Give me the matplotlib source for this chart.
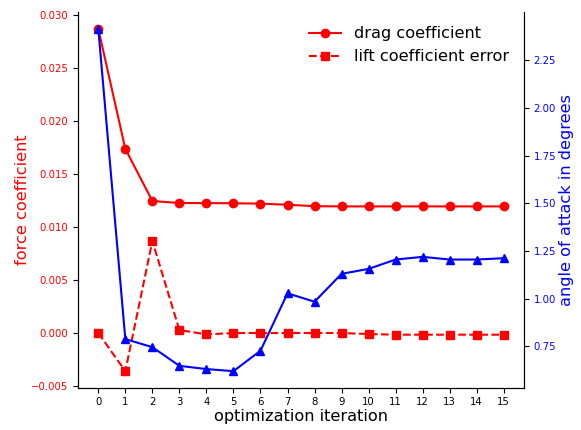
import matplotlib.pyplot as plt
import numpy as np

# данные
iterations = np.arange(16)
drag_coef = [0.02869, 0.01736, 0.01245, 0.01226, 0.01225, 0.01224, 0.01220, 0.01210,
             0.01196, 0.01194, 0.01194, 0.01194, 0.01194, 0.01194, 0.01194, 0.01194]
lift_err = [0.0000, -0.0036, 0.00868, 0.00028, -0.00013, 0.0000, 0.0000, 0.0000,
            0.0000, 0.0000, -0.0001, -0.00016, -0.00016, -0.00016, -0.00016, -0.00016]
angle_deg = [2.414, 0.788, 0.746, 0.648, 0.631, 0.620, 0.727, 1.028,
             0.984, 1.130, 1.156, 1.205, 1.219, 1.205, 1.205, 1.212]

fig = plt.figure(figsize=(5.81, 4.30), dpi=100)
ax = fig.add_axes([0.1343, 0.097, 0.7676, 0.8758])

ax.plot(iterations, drag_coef, 'r-o', lw=1.5, ms=6, label='drag coefficient')
ax.plot(iterations, lift_err, 'r--s', lw=1.5, ms=6, label='lift coefficient error')
ax.set_xlabel('optimization iteration', fontsize=11.6, labelpad=2)
ax.set_ylabel('force coefficient', color='red', fontsize=11.6, labelpad=1)
ax.set_xticks(iterations)
ax.tick_params(axis='x', labelsize=7.3, pad=2.5)
ax.tick_params(axis='y', labelsize=7.3, labelcolor='red')
ax.spines['top'].set_visible(False)
ax.legend(loc='upper right', frameon=False, fontsize=11.6)

ax2 = ax.twinx()
ax2.plot(iterations, angle_deg, 'b-^', lw=1.5, ms=6)
ax2.set_ylabel('angle of attack in degrees', color='blue', fontsize=11.6, labelpad=2)
ax2.set_yticks([0.75, 1.00, 1.25, 1.50, 1.75, 2.00, 2.25])
ax2.tick_params(axis='y', labelsize=7.3, labelcolor='blue')
ax2.spines['top'].set_visible(False)

fig.savefig('out.png', dpi=100)
